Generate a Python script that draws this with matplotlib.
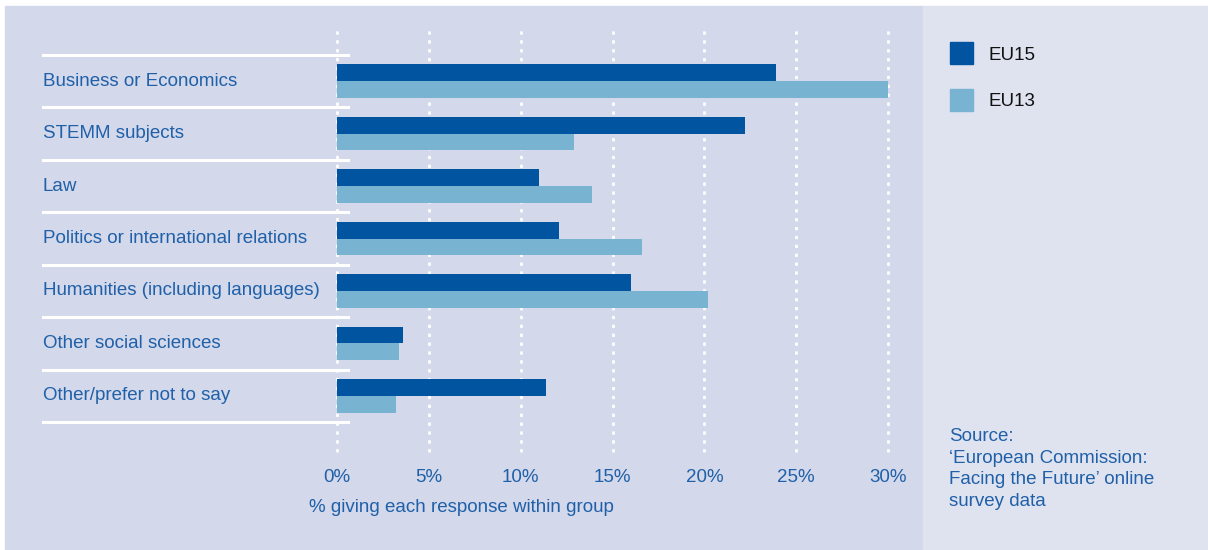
import numpy as np
import matplotlib.pyplot as plt
from matplotlib.patches import Rectangle
from matplotlib.lines import Line2D
import matplotlib.transforms as mtransforms

plt.rcParams['font.family'] = ['Liberation Sans', 'DejaVu Sans']

# categories, top to bottom
categorias = ["Business or Economics", "STEMM subjects", "Law",
              "Politics or international relations",
              "Humanities (including languages)", "Other social sciences",
              "Other/prefer not to say"]
eu15 = [23.9, 22.2, 11.0, 12.1, 16.0, 3.6, 11.4]
eu13 = [30.0, 12.9, 13.9, 16.6, 20.2, 3.4, 3.2]
series = ["EU15", "EU13"]
xticks = [0, 5, 10, 15, 20, 25, 30]

cor_eu15 = '#0054A0'
cor_eu13 = '#78B3D1'
cor_texto = '#1F60A8'
fundo_esq = '#D3D8EB'
fundo_dir = '#DFE3F0'
fs = 13.5

W, H = 1208, 550
fig = plt.figure(figsize=(W / 100, H / 100), dpi=100)
fig.patch.set_facecolor('white')

# background panels
fig.patches.append(Rectangle((5 / W, 0), (923 - 5) / W, (H - 6) / H,
                             transform=fig.transFigure, color=fundo_esq, zorder=-10))
fig.patches.append(Rectangle((923 / W, 0), (W - 923) / W, (H - 6) / H,
                             transform=fig.transFigure, color=fundo_dir, zorder=-10))

# axes: x 0..30 -> px 337..888, y top 30 -> bottom 452
x0, x1 = 337, 888
ytop, ybot = 30, 452
ax = fig.add_axes([x0 / W, 1 - ybot / H, (x1 - x0) / W, (ybot - ytop) / H])
ax.set_facecolor('none')
for s in ax.spines.values():
    s.set_visible(False)

n = len(categorias)
y = np.arange(n)
slot = (422 - 55) / n
ax.set_xlim(0, 30)
ax.set_ylim(6.5 + (ybot - 422) / slot, -0.5 - (55 - ytop) / slot)

h = 0.32
ax.barh(y - h / 2, eu15, height=h, color=cor_eu15, zorder=3, label=series[0])
ax.barh(y + h / 2, eu13, height=h, color=cor_eu13, zorder=3, label=series[1])

# dotted white gridlines
for xt in xticks:
    ax.axvline(xt, color='white', linestyle=(0, (1.2, 2.0)), linewidth=2,
               zorder=1, clip_on=False)

ax.set_xticks(xticks)
ax.set_xticklabels([f"{v}%" for v in xticks], fontsize=fs, color=cor_texto)
ax.tick_params(axis='x', length=0, pad=12)
ax.set_yticks([])

# separator lines and category labels
tr = mtransforms.blended_transform_factory(fig.transFigure, ax.transData)
for k in range(n + 1):
    fig.add_artist(Line2D([43 / W, 348 / W], [k - 0.5, k - 0.5], transform=tr,
                          color='white', linewidth=2.2, zorder=2))
for k, cat in enumerate(categorias):
    fig.text(43 / W, k, cat, transform=tr, ha='left', va='center',
             fontsize=fs, color=cor_texto)

fig.text(309 / W, 1 - 507 / H, "% giving each response within group",
         ha='left', va='center', fontsize=fs, color=cor_texto)

# legend
for i, (nome, cor) in enumerate(zip(series, [cor_eu15, cor_eu13])):
    yc = 53 + i * 47
    fig.patches.append(Rectangle((950 / W, 1 - (yc + 11) / H), 23 / W, 22 / H,
                                 transform=fig.transFigure, color=cor))
    fig.text(988 / W, 1 - (yc + 2) / H, nome, ha='left', va='center',
             fontsize=fs, color='#111111')

fig.text(949 / W, 1 - 428 / H,
         "Source:\n\u2018European Commission:\nFacing the Future\u2019 online\nsurvey data",
         ha='left', va='top', fontsize=fs, color=cor_texto, linespacing=1.36)

fig.savefig('out.png', dpi=100, facecolor=fig.get_facecolor())
